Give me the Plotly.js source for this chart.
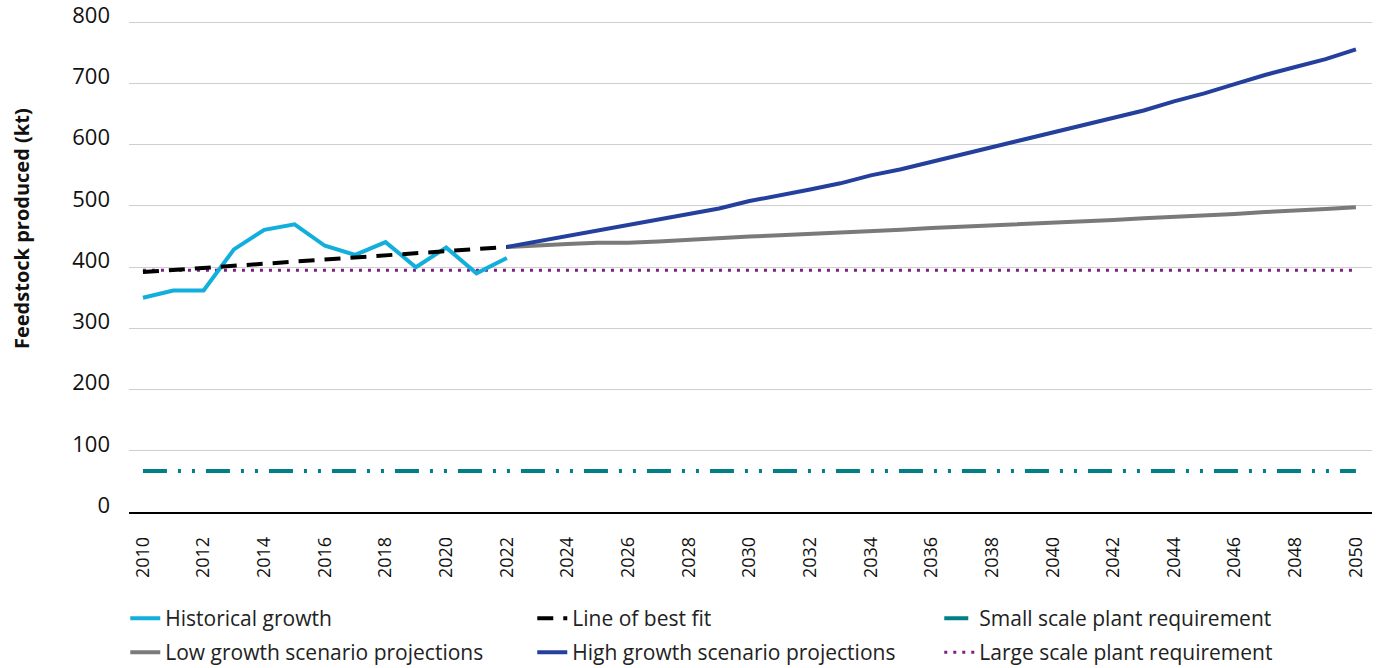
<!DOCTYPE html>
<html>
<head>
<meta charset="utf-8">
<script src="https://cdn.plot.ly/plotly-3.0.1.min.js"></script>
<style>
  html, body { margin: 0; padding: 0; background: #fff; }
  #chart { width: 1384px; height: 668px; }
</style>
</head>
<body>
<div id="chart"></div>
<script>
// historical feedstock, 2010-2022
var histYears = [2010, 2011, 2012, 2013, 2014, 2015, 2016, 2017, 2018, 2019, 2020, 2021, 2022];
var histValues = [350, 362, 362, 429, 461, 470, 435, 420, 441, 400, 432, 390, 415];

// straight line of best fit (end points)
var fitYears = [2010, 2022];
var fitValues = [392, 433];

// projections 2022-2050
var projYears = [2022, 2023, 2024, 2025, 2026, 2027, 2028, 2029, 2030, 2031, 2032, 2033, 2034, 2035,
    2036, 2037, 2038, 2039, 2040, 2041, 2042, 2043, 2044, 2045, 2046, 2047, 2048, 2049, 2050];
var lowGrowth = [433, 436, 438, 440, 440, 442, 445, 447, 450, 452, 454, 456, 459, 461,
    464, 466, 468, 471, 473, 475, 477, 480, 482, 485, 487, 490, 492, 495, 498];
var highGrowth = [433, 442, 451, 460, 469, 477, 486, 496, 508, 517, 527, 537, 550, 560,
    572, 585, 597, 609, 621, 633, 644, 656, 671, 684, 699, 714, 727, 740, 756];

// plant requirements
var reqYears = [2010, 2050];
var smallPlant = [67, 67];
var largePlant = [395, 395];

var xTicks = [];
for (let y = 2010; y <= 2050; y += 2) {
    xTicks.push(y);
}
var yTicks = [0, 100, 200, 300, 400, 500, 600, 700, 800];

// first legend row
var historical = {
    x: histYears, y: histValues, type: 'scatter', mode: 'lines',
    name: 'Historical growth', legend: 'legend', legendrank: 1,
    line: {color: '#12aedc', width: 4}
};

var bestFit = {
    x: fitYears, y: fitValues, type: 'scatter', mode: 'lines',
    name: 'Line of best fit', legend: 'legend', legendrank: 2,
    line: {color: '#000000', width: 4, dash: '16px,10px'}
};

var small = {
    x: reqYears, y: smallPlant, type: 'scatter', mode: 'lines',
    name: 'Small scale plant requirement', legend: 'legend', legendrank: 3,
    line: {color: '#007f86', width: 4, dash: '24px,11px,3px,11px,3px,11px'}
};

// second legend row
var low = {
    x: projYears, y: lowGrowth, type: 'scatter', mode: 'lines',
    name: 'Low growth scenario projections', legend: 'legend2', legendrank: 4,
    line: {color: '#7a7a7a', width: 4}
};

var high = {
    x: projYears, y: highGrowth, type: 'scatter', mode: 'lines',
    name: 'High growth scenario projections', legend: 'legend2', legendrank: 5,
    line: {color: '#24409c', width: 4}
};

var large = {
    x: reqYears, y: largePlant, type: 'scatter', mode: 'lines',
    name: 'Large scale plant requirement', legend: 'legend2', legendrank: 6,
    line: {color: '#7b1f82', width: 3, dash: '3px,6px'}
};

// requirements drawn underneath
var data = [large, small, low, high, historical, bestFit];

// plot area: top margin 4, height 508 -> y 0 at 512px, 800 at ~22px
function legendRow(yPos) {
    return {
        orientation: 'h',
        x: -0.003, xanchor: 'left',
        y: yPos, yanchor: 'top',
        entrywidth: 362,
        tracegroupgap: 0,
        itemwidth: 30,
        font: {size: 21, color: '#222'},
        traceorder: 'normal'
    };
}

var layout = {
    width: 1384,
    height: 668,
    font: {family: '"Open Sans", sans-serif', color: '#111', size: 18},
    paper_bgcolor: '#ffffff',
    plot_bgcolor: '#ffffff',
    margin: {l: 129, r: 12, t: 4, b: 156, autoexpand: false},
    showlegend: true,
    legend: legendRow(-0.1693),
    legend2: legendRow(-0.2362),
    xaxis: {
        range: [2009.54, 2050.53],
        tickvals: xTicks,
        ticktext: xTicks.map(String),
        tickangle: -90,
        showgrid: false,
        zeroline: false,
        showline: true,
        linecolor: '#000',
        linewidth: 1.5,
        ticks: '',
        ticklabelstandoff: 16,
        tickfont: {size: 18}
    },
    yaxis: {
        range: [0, 830],
        tickvals: yTicks,
        ticktext: yTicks.map(String),
        showgrid: true,
        gridcolor: '#cfcfcf',
        gridwidth: 1,
        zeroline: false,
        showline: false,
        ticks: '',
        ticklabelstandoff: 18,
        ticklabelshift: -7,
        ticklabeloverflow: 'allow',
        tickfont: {size: 22}
    },
    annotations: [{
        text: 'Feedstock produced (kt)',
        xref: 'paper', yref: 'paper',
        x: -0.0869, y: 0.559,
        xanchor: 'center', yanchor: 'middle',
        textangle: -90,
        showarrow: false,
        font: {size: 20, color: '#111', weight: 'bold'}
    }]
};

Plotly.newPlot('chart', data, layout, {displayModeBar: false});
</script>
</body>
</html>
